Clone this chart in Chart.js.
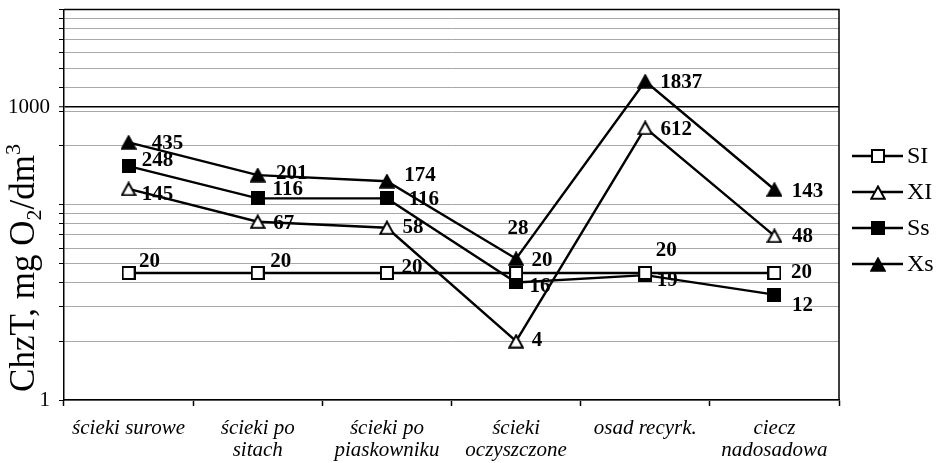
<!DOCTYPE html>
<html>
<head>
<meta charset="utf-8">
<script src="https://cdn.jsdelivr.net/npm/chart.js@4/dist/chart.umd.min.js"></script>
<style>
  html, body { margin: 0; padding: 0; background: #fff; }
  #wrap { width: 946px; height: 463px; }
</style>
</head>
<body>
<div id="wrap"><canvas id="chart" width="946" height="463"></canvas></div>
<script>
// ---- data ----
const categories = [
  ['ścieki surowe'],
  ['ścieki po', 'sitach'],
  ['ścieki po', 'piaskowniku'],
  ['ścieki', 'oczyszczone'],
  ['osad recyrk.'],
  ['ciecz', 'nadosadowa']
];
const seriesNames = ['SI', 'XI', 'Ss', 'Xs'];
const SI = [20, 20, 20, 20, 20, 20];
const XI = [145, 67, 58, 4, 612, 48];
const Ss = [248, 116, 116, 16, 19, 12];
const Xs = [435, 201, 174, 28, 1837, 143];
const yGridValues = [1, 4, 9, 16, 25, 36, 49, 64, 81, 100, 400, 900, 1000, 1600, 2500, 3600, 4900, 6400, 8100, 10000];
const yTickLabels = [1, 1000];
const yMin = 1, yMax = 10000;

// value-label placement relative to each point (dx, dy in px)
const labelOffsets = {
  SI: [[21, -11], [23, -11], [25, -5], [26, -12], [21, -22], [27, 0]],
  XI: [[29, 6], [26, 2], [26, 0], [21, -1], [31, 2], [28, 1]],
  Ss: [[29, -6], [30, -9], [37, 1], [24, 4], [22, 5], [28, 11]],
  Xs: [[39, 1], [34, -2], [33, -6], [2, -30], [36, 1], [33, 2]]
};

const SERIF = '"Liberation Serif", "Times New Roman", serif';

// ---- marker images ----
function squareMarker(fill) {
  const c = document.createElement('canvas');
  c.width = 14; c.height = 14;
  const g = c.getContext('2d');
  g.fillStyle = fill; g.strokeStyle = '#000'; g.lineWidth = 2;
  g.fillRect(1, 1, 12, 12);
  g.strokeRect(1, 1, 12, 12);
  return c;
}
function triangleMarker(fill) {
  const c = document.createElement('canvas');
  c.width = 16; c.height = 15;
  const g = c.getContext('2d');
  g.fillStyle = fill; g.strokeStyle = '#000'; g.lineWidth = 2; g.lineJoin = 'miter';
  g.beginPath();
  g.moveTo(8, 1.5);
  g.lineTo(14.8, 13.8);
  g.lineTo(1.2, 13.8);
  g.closePath();
  g.fill();
  g.stroke();
  return c;
}
const markers = {
  SI: squareMarker('#fff'),
  XI: triangleMarker('#fff'),
  Ss: squareMarker('#000'),
  Xs: triangleMarker('#000')
};
const seriesData = { SI, XI, Ss, Xs };

const datasets = seriesNames.map(name => ({
  label: name,
  data: seriesData[name],
  borderColor: '#000',
  borderWidth: 2.4,
  tension: 0,
  pointStyle: markers[name],
  pointRadius: 7,
  pointHoverRadius: 7,
  fill: false
}));

// ---- plugins ----
const frame = {
  id: 'frame',
  beforeDatasetsDraw(chart) {
    const { ctx, chartArea: a } = chart;
    ctx.save();
    ctx.strokeStyle = '#000';
    ctx.lineWidth = 1.5;
    ctx.beginPath();
    ctx.moveTo(a.left, a.top);
    ctx.lineTo(a.right, a.top);
    ctx.lineTo(a.right, a.bottom);
    ctx.stroke();
    ctx.restore();
  }
};

const valueLabels = {
  id: 'valueLabels',
  afterDatasetsDraw(chart) {
    const ctx = chart.ctx;
    ctx.save();
    ctx.font = 'bold 21px ' + SERIF;
    ctx.fillStyle = '#000';
    ctx.textAlign = 'center';
    ctx.textBaseline = 'middle';
    chart.data.datasets.forEach((ds, di) => {
      const meta = chart.getDatasetMeta(di);
      const offs = labelOffsets[ds.label];
      meta.data.forEach((pt, i) => {
        const [dx, dy] = offs[i];
        ctx.fillText(String(ds.data[i]), pt.x + dx, pt.y + dy);
      });
    });
    ctx.restore();
  }
};

const sideLegend = {
  id: 'sideLegend',
  afterDraw(chart) {
    const ctx = chart.ctx;
    const x0 = 852, x1 = 903, xm = 878, tx = 907;
    const ys = [156, 192, 228, 264];
    ctx.save();
    ctx.font = '24px ' + SERIF;
    ctx.textAlign = 'left';
    ctx.textBaseline = 'middle';
    seriesNames.forEach((name, i) => {
      const y = ys[i];
      ctx.strokeStyle = '#000';
      ctx.lineWidth = 2.4;
      ctx.beginPath();
      ctx.moveTo(x0, y);
      ctx.lineTo(x1, y);
      ctx.stroke();
      const m = markers[name];
      ctx.drawImage(m, Math.round(xm - m.width / 2), Math.round(y - m.height / 2));
      ctx.fillStyle = '#000';
      ctx.fillText(name, tx, y + 1);
    });
    ctx.restore();
  }
};

const yTitle = {
  id: 'yTitle',
  afterDraw(chart) {
    const ctx = chart.ctx;
    const big = '35px ' + SERIF, small = '22px ' + SERIF;
    const parts = [
      { t: 'ChzT, mg O', f: big, dy: 0 },
      { t: '2', f: small, dy: 7 },
      { t: '/dm', f: big, dy: 0 },
      { t: '3', f: small, dy: -14 }
    ];
    ctx.save();
    let total = 0;
    parts.forEach(p => { ctx.font = p.f; p.w = ctx.measureText(p.t).width; total += p.w; });
    const cx = 22, cy = 268;
    ctx.translate(cx, cy);
    ctx.rotate(-Math.PI / 2);
    ctx.fillStyle = '#000';
    ctx.textBaseline = 'alphabetic';
    ctx.textAlign = 'left';
    let x = -total / 2;
    parts.forEach(p => {
      ctx.font = p.f;
      ctx.fillText(p.t, x, 12 + p.dy);
      x += p.w;
    });
    ctx.restore();
  }
};

new Chart(document.getElementById('chart'), {
  type: 'line',
  data: { labels: categories, datasets },
  options: {
    responsive: false,
    animation: false,
    events: [],
    layout: { padding: { top: 5.5, right: 107, bottom: 0, left: 0 } },
    plugins: {
      legend: { display: false },
      tooltip: { enabled: false }
    },
    scales: {
      x: {
        type: 'category',
        offset: true,
        grid: {
          display: true,
          offset: true,
          drawOnChartArea: false,
          drawTicks: true,
          tickLength: 6,
          tickColor: '#000',
          tickWidth: 1.5
        },
        border: { display: true, color: '#000', width: 1.5 },
        ticks: {
          color: '#000',
          font: { family: SERIF, size: 21, style: 'italic', lineHeight: 1.05 },
          padding: 11,
          maxRotation: 0,
          autoSkip: false
        },
        afterFit(axis) {
          axis.height = 63;
          axis.paddingLeft = 0;
          axis.paddingRight = 0;
        }
      },
      y: {
        type: 'logarithmic',
        min: yMin,
        max: yMax,
        afterBuildTicks(axis) {
          axis.ticks = yGridValues.map(v => ({ value: v, major: yTickLabels.includes(v) }));
        },
        grid: {
          color: c => (c.tick && (c.tick.value === 1000 || c.tick.value === 10000)) ? '#000' : '#a8a8a8',
          lineWidth: c => (c.tick && c.tick.value === 1000) ? 1.5 : 1,
          drawTicks: true,
          tickLength: 5,
          tickColor: '#000',
          tickWidth: 1
        },
        border: { display: true, color: '#000', width: 1.5 },
        ticks: {
          color: '#000',
          font: { family: SERIF, size: 21 },
          padding: 9,
          autoSkip: false,
          callback: v => yTickLabels.includes(v) ? String(v) : ''
        },
        afterFit(axis) {
          axis.width = 64;
          axis.paddingTop = 0;
          axis.paddingBottom = 0;
        }
      }
    }
  },
  plugins: [frame, valueLabels, sideLegend, yTitle]
});
</script>
</body>
</html>
